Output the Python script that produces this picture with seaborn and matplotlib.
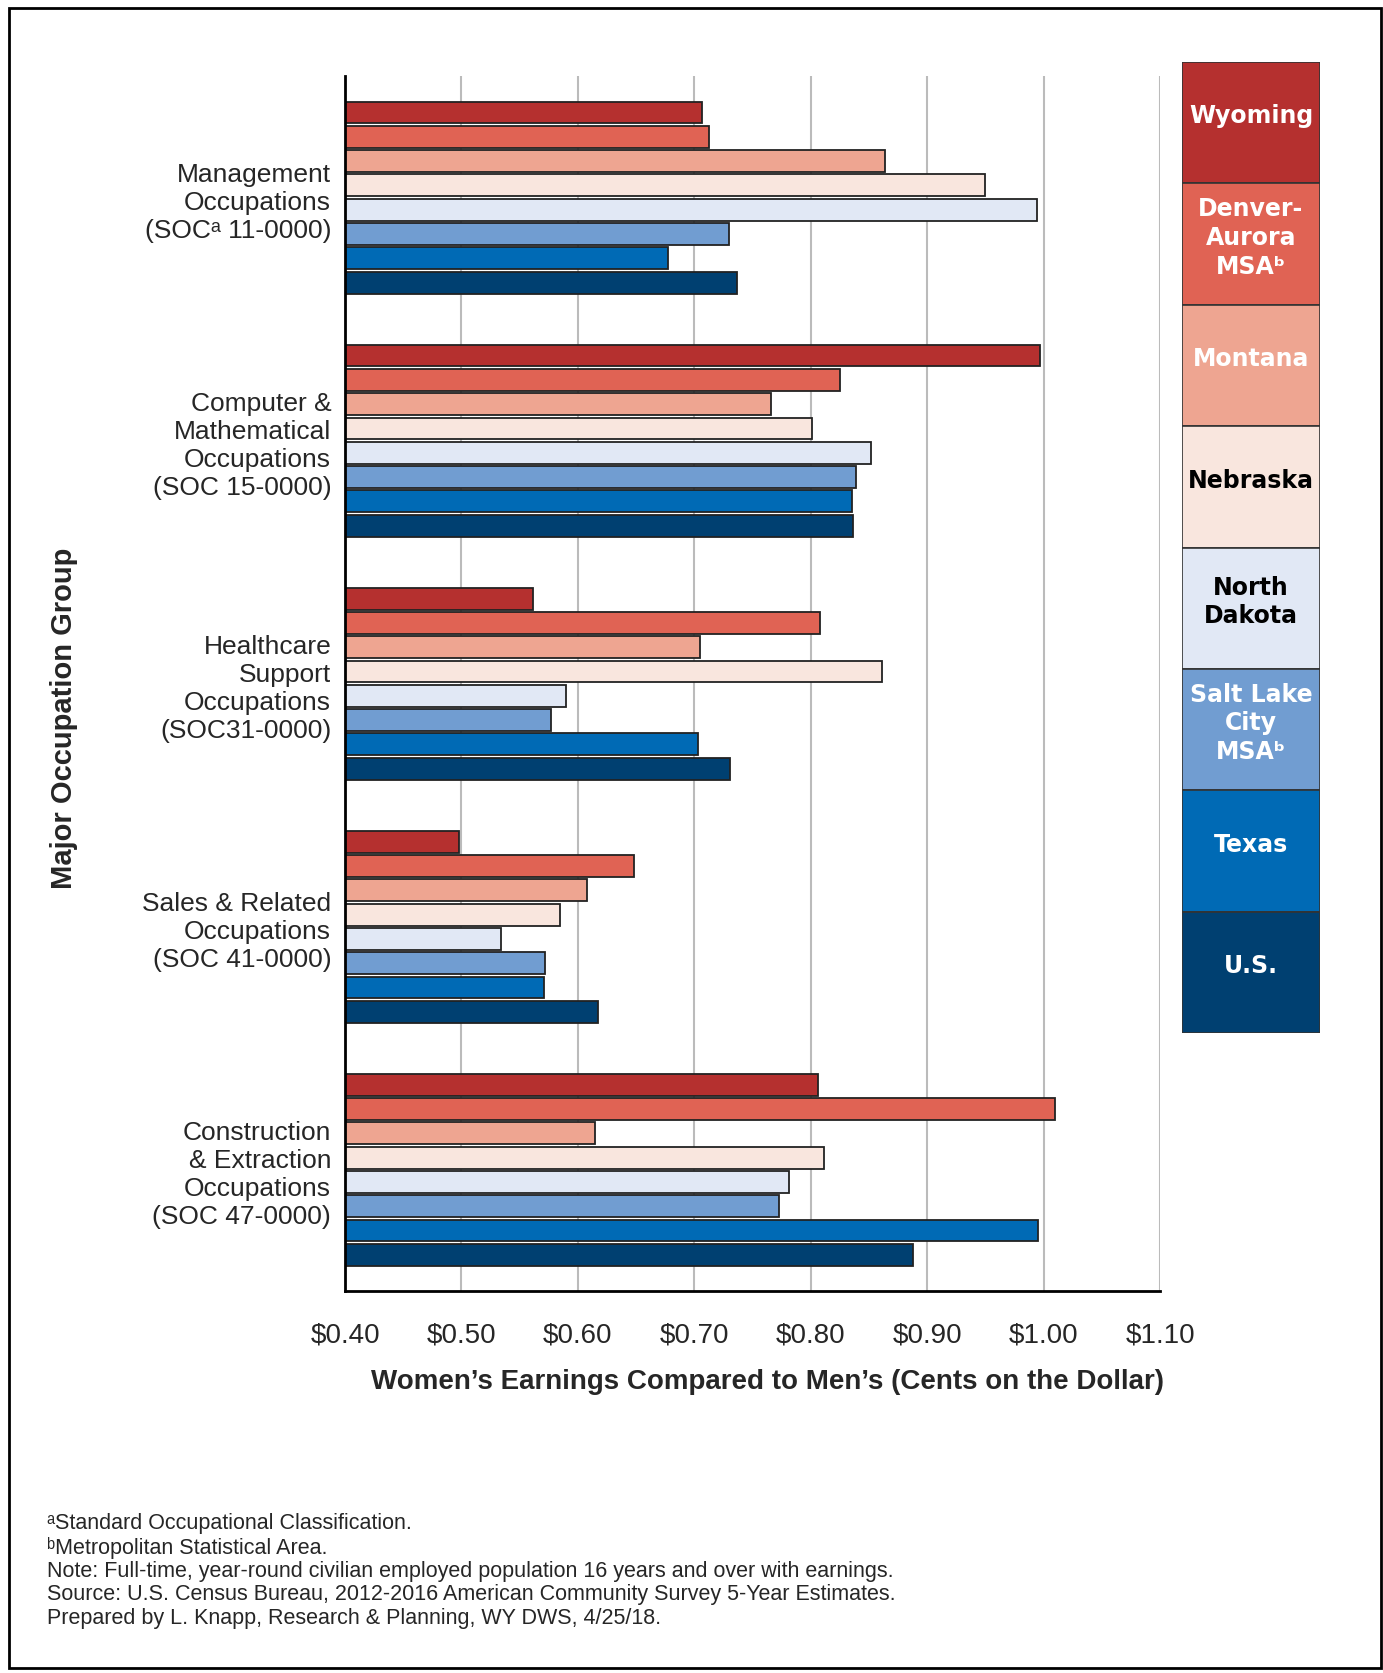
import pandas as pd
import matplotlib.pyplot as plt
import seaborn as sns
from matplotlib.patches import Rectangle

# Occupation groups (y axis) and areas (hue)
groups = [
    "Management\nOccupations\n(SOC\u1d43 11-0000)",
    "Computer &\nMathematical\nOccupations\n(SOC 15-0000)",
    "Healthcare\nSupport\nOccupations\n(SOC31-0000)",
    "Sales & Related\nOccupations\n(SOC 41-0000)",
    "Construction\n& Extraction\nOccupations\n(SOC 47-0000)",
]
areas = ["Wyoming", "Denver-\nAurora\nMSA\u1d47", "Montana", "Nebraska",
         "North\nDakota", "Salt Lake\nCity\nMSA\u1d47", "Texas", "U.S."]
colors = ["#B5302F", "#E06354", "#EEA591", "#F9E6DE",
          "#E1E8F5", "#719DD1", "#006AB5", "#004071"]
text_colors = ["white", "white", "white", "black",
               "black", "white", "white", "white"]

# women's earnings per dollar of men's, one list per area (in group order)
wyoming = [0.707, 0.997, 0.561, 0.498, 0.806]
denver = [0.713, 0.825, 0.808, 0.648, 1.010]
montana = [0.864, 0.766, 0.705, 0.608, 0.615]
nebraska = [0.950, 0.801, 0.861, 0.585, 0.811]
north_dakota = [0.994, 0.852, 0.590, 0.534, 0.781]
salt_lake = [0.730, 0.839, 0.577, 0.572, 0.773]
texas = [0.677, 0.835, 0.703, 0.571, 0.995]
us = [0.737, 0.836, 0.731, 0.617, 0.888]

x_ticks = [0.40, 0.50, 0.60, 0.70, 0.80, 0.90, 1.00, 1.10]
x_tick_labels = ["$0.40", "$0.50", "$0.60", "$0.70", "$0.80", "$0.90", "$1.00", "$1.10"]

footnotes = ("\u1d43Standard Occupational Classification.\n"
             "\u1d47Metropolitan Statistical Area.\n"
             "Note: Full-time, year-round civilian employed population 16 years and over with earnings.\n"
             "Source: U.S. Census Bureau, 2012-2016 American Community Survey 5-Year Estimates.\n"
             "Prepared by L. Knapp, Research & Planning, WY DWS, 4/25/18.")

series = [wyoming, denver, montana, nebraska, north_dakota, salt_lake, texas, us]
rows = []
for area, vals in zip(areas, series):
    for g, v in zip(groups, vals):
        rows.append({"group": g, "area": area, "ratio": v})
df = pd.DataFrame(rows)

sns.set_style("white")
plt.rcParams["font.family"] = ["Liberation Sans Narrow", "Liberation Sans", "DejaVu Sans"]

fig = plt.figure(figsize=(13.83, 16.74), dpi=100)
ax = fig.add_axes([0.2495, 0.228, 0.5893, 0.726])

# vertical grid lines kept under the bars
for xt in x_ticks:
    ax.axvline(xt, color="#BBBBBB", linewidth=1.5, zorder=0)

sns.barplot(data=df, x="ratio", y="group", hue="area", order=groups, hue_order=areas,
            palette=colors, saturation=1, orient="h", width=0.8, gap=0.1, errorbar=None,
            edgecolor="#222222", linewidth=1.3, legend=False, ax=ax)

ax.set_axisbelow(False)
ax.set_xlim(0.40, 1.10)
ax.set_ylim(4.5, -0.5)
ax.set_xticks(x_ticks)
ax.set_xticklabels(x_tick_labels, fontsize=20)
ax.set_yticks(range(len(groups)))
ax.set_yticklabels(groups, fontsize=19, linespacing=1.2)
ax.tick_params(axis="x", length=0, pad=22)
ax.tick_params(axis="y", direction="in", length=14, width=2.5, color="black", pad=10)
ax.grid(False)
for side in ["top", "right"]:
    ax.spines[side].set_visible(False)
for side in ["left", "bottom"]:
    ax.spines[side].set_color("black")
    ax.spines[side].set_linewidth(2)

ax.set_xlabel("Women\u2019s Earnings Compared to Men\u2019s (Cents on the Dollar)",
              fontsize=20, fontweight="bold", va="center")
ax.xaxis.set_label_coords(0.518, -0.074)
ax.set_ylabel("Major Occupation Group", fontsize=21, fontweight="bold", va="center")
ax.yaxis.set_label_coords(-0.345, 0.472)

# legend as a stack of coloured boxes
lax = fig.add_axes([1182 / 1383, 1 - 1034 / 1674, 138 / 1383, 971 / 1674])
lax.barh(range(len(areas)), 1, height=1, left=0, color=colors,
         edgecolor="#333333", linewidth=1.2)
lax.set_xlim(0, 1)
lax.set_ylim(len(areas) - 0.5, -0.5)
lax.axis("off")
for i, (name, tc) in enumerate(zip(areas, text_colors)):
    lax.text(0.5, i - 0.06, name, ha="center", va="center", color=tc, fontsize=17,
             fontweight="bold", family=["DejaVu Sans"], linespacing=1.25)

fig.text(47 / 1383, 1 - 1513 / 1674, footnotes, ha="left", va="top",
         fontsize=15.5, linespacing=1.15)

fig.add_artist(Rectangle((0.0065, 0.003), 0.992, 0.9915, transform=fig.transFigure,
                         fill=False, edgecolor="black", linewidth=2))

fig.savefig("out.png", dpi=100)
